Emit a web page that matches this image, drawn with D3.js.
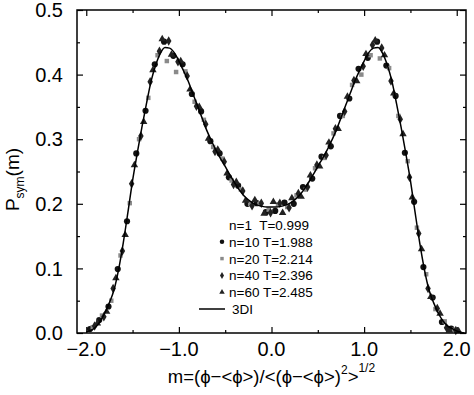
<!DOCTYPE html>
<html>
<head>
<meta charset="utf-8">
<script src="https://cdn.jsdelivr.net/npm/d3@7"></script>
<style>
  body { margin: 0; background: #fff; }
  svg { font-family: "Liberation Sans", Arial, Helvetica, sans-serif; }
</style>
</head>
<body>
<script>
// 3DI curve
const lineM = [-2.00,-1.95,-1.90,-1.85,-1.80,-1.75,-1.70,-1.65,-1.60,-1.55,-1.50,-1.45,-1.40,-1.35,-1.30,-1.25,-1.20,-1.15,-1.10,-1.05,
    -1.00,-0.95,-0.90,-0.85,-0.80,-0.75,-0.70,-0.65,-0.60,-0.55,-0.50,-0.45,-0.40,-0.35,-0.30,-0.25,-0.20,-0.15,-0.10,-0.05,
    0.00,0.05,0.10,0.15,0.20,0.25,0.30,0.35,0.40,0.45,0.50,0.55,0.60,0.65,0.70,0.75,0.80,0.85,0.90,0.95,
    1.00,1.05,1.10,1.15,1.20,1.25,1.30,1.35,1.40,1.45,1.50,1.55,1.60,1.65,1.70,1.75,1.80,1.85,1.90,1.95,2.00,2.05,2.08];
const lineP = [0.002,0.004,0.009,0.018,0.031,0.047,0.067,0.099,0.140,0.187,0.236,0.278,0.318,0.355,0.390,0.415,0.433,0.442,0.441,0.434,
    0.421,0.406,0.390,0.371,0.352,0.333,0.314,0.298,0.283,0.270,0.258,0.245,0.233,0.222,0.213,0.206,0.201,0.198,0.196,0.195,
    0.195,0.195,0.196,0.198,0.201,0.206,0.213,0.222,0.233,0.245,0.258,0.270,0.283,0.298,0.314,0.333,0.352,0.371,0.390,0.406,
    0.421,0.434,0.441,0.442,0.433,0.415,0.390,0.355,0.318,0.278,0.236,0.187,0.140,0.099,0.067,0.047,0.031,0.019,0.011,0.007,0.003,0.001,0.000];

// n=1 T=0.999
const m1 = [-1.99,-1.89,-1.79,-1.69,-1.59,-1.49,-1.39,-1.29,-1.19,-1.09,-0.99,-0.89,-0.79,-0.69,-0.59,-0.49,-0.39,-0.29,-0.19,-0.09,
    0.01,0.11,0.21,0.31,0.41,0.51,0.61,0.71,0.81,0.91,1.01,1.11,1.21,1.31,1.41,1.51,1.61,1.71,1.81,1.91];
const p1 = [0.004,0.013,0.030,0.078,0.144,0.251,0.321,0.400,0.445,0.434,0.423,0.381,0.352,0.306,0.284,0.250,0.235,0.207,0.203,0.192,
    0.198,0.193,0.205,0.211,0.238,0.256,0.290,0.314,0.360,0.388,0.428,0.447,0.424,0.388,0.305,0.231,0.127,0.068,0.025,0.010];
// n=10 T=1.988
const m10 = [-1.96,-1.86,-1.76,-1.66,-1.56,-1.46,-1.36,-1.26,-1.16,-1.06,-0.96,-0.86,-0.76,-0.66,-0.56,-0.46,-0.36,-0.26,-0.16,-0.06,
    0.04,0.14,0.24,0.34,0.44,0.54,0.64,0.74,0.84,0.94,1.04,1.14,1.24,1.34,1.44,1.54,1.64,1.74,1.84,1.94];
const p10 = [0.006,0.020,0.041,0.099,0.173,0.278,0.344,0.416,0.451,0.429,0.416,0.370,0.343,0.297,0.278,0.241,0.228,0.200,0.201,0.187,
    0.189,0.202,0.200,0.226,0.239,0.273,0.289,0.336,0.363,0.409,0.426,0.451,0.414,0.367,0.279,0.203,0.102,0.055,0.017,0.007];
// n=20 T=2.214
const m20 = [-1.93,-1.83,-1.73,-1.63,-1.53,-1.43,-1.33,-1.23,-1.13,-1.03,-0.93,-0.83,-0.73,-0.63,-0.53,-0.43,-0.33,-0.23,-0.13,-0.03,
    0.07,0.17,0.27,0.37,0.47,0.57,0.67,0.77,0.87,0.97,1.07,1.17,1.27,1.37,1.47,1.57,1.67,1.77,1.87,1.97];
const p20 = [0.009,0.027,0.050,0.120,0.201,0.300,0.364,0.430,0.421,0.404,0.405,0.358,0.330,0.288,0.270,0.236,0.222,0.200,0.201,0.191,
    0.199,0.195,0.213,0.222,0.255,0.271,0.309,0.336,0.384,0.400,0.430,0.425,0.410,0.336,0.266,0.163,0.091,0.037,0.018,0.005];
// n=40 T=2.396
const m40 = [-1.91,-1.81,-1.71,-1.61,-1.51,-1.41,-1.31,-1.21,-1.11,-1.01,-0.91,-0.81,-0.71,-0.61,-0.51,-0.41,-0.31,-0.21,-0.11,-0.01,
    0.09,0.19,0.29,0.39,0.49,0.59,0.69,0.79,0.89,0.99,1.09,1.19,1.29,1.39,1.49,1.59,1.69,1.79,1.89,1.99];
const p40 = [0.011,0.025,0.069,0.127,0.231,0.305,0.389,0.436,0.452,0.420,0.398,0.351,0.323,0.281,0.265,0.230,0.220,0.197,0.201,0.186,
    0.201,0.194,0.216,0.226,0.260,0.275,0.316,0.343,0.391,0.413,0.446,0.441,0.390,0.331,0.241,0.154,0.069,0.038,0.008,0.004];
// n=60 T=2.485
const m60 = [-1.88,-1.78,-1.68,-1.58,-1.48,-1.38,-1.28,-1.18,-1.08,-0.98,-0.88,-0.78,-0.68,-0.58,-0.48,-0.38,-0.28,-0.18,-0.08,0.02,
    0.12,0.22,0.32,0.42,0.52,0.62,0.72,0.82,0.92,1.02,1.12,1.22,1.32,1.42,1.52,1.62,1.72,1.82,1.92,2.02];
const p60 = [0.015,0.033,0.085,0.152,0.260,0.327,0.407,0.455,0.431,0.421,0.377,0.350,0.301,0.284,0.247,0.234,0.205,0.206,0.185,0.203,
    0.186,0.209,0.211,0.244,0.258,0.295,0.316,0.366,0.390,0.432,0.453,0.430,0.371,0.308,0.210,0.130,0.056,0.030,0.004,0.003];

const xTicks = [-2, -1, 0, 1, 2];
const xMinor = [-1.5, -0.5, 0.5, 1.5];
const yTicks = [0, 0.1, 0.2, 0.3, 0.4, 0.5];
const yMinor = [0.05, 0.15, 0.25, 0.35, 0.45];

const width = 474, height = 395;
const plot = { left: 77, right: 466, top: 10, bottom: 333 };

const series = [
    { label: "n=1  T=0.999", m: m1, p: p1, sym: d3.symbolPlus, size: 22, legSize: 16, fill: "#a8a8a8" },
    { label: "n=10 T=1.988", m: m10, p: p10, sym: d3.symbolCircle, size: 30, legSize: 16, fill: "#111" },
    { label: "n=20 T=2.214", m: m20, p: p20, sym: d3.symbolSquare, size: 20, legSize: 12, fill: "#8a8a8a" },
    { label: "n=40 T=2.396", m: m40, p: p40, sym: d3.symbolDiamond, size: 26, legSize: 14, fill: "#222" },
    { label: "n=60 T=2.485", m: m60, p: p60, sym: d3.symbolTriangle, size: 24, legSize: 13, fill: "#222" }
];

const x = d3.scaleLinear().domain([-2.1, 2.1]).range([plot.left, plot.right]);
const y = d3.scaleLinear().domain([0, 0.5]).range([plot.bottom, plot.top]);

const svg = d3.select("body").append("svg")
    .attr("width", width)
    .attr("height", height);

// inward ticks on all four sides
const addAxis = (axisFn, scale, vals, len, tr) => {
    svg.append("g")
        .attr("transform", tr)
        .call(axisFn(scale).tickValues(vals).tickSize(len).tickFormat(""))
        .call(g => g.select(".domain").remove())
        .call(g => g.selectAll("line").attr("stroke", "#000").attr("stroke-width", 1.2));
};
addAxis(d3.axisBottom, x, xTicks, 6, `translate(0,${plot.top})`);
addAxis(d3.axisBottom, x, xMinor, 3, `translate(0,${plot.top})`);
addAxis(d3.axisTop, x, xTicks, 6, `translate(0,${plot.bottom})`);
addAxis(d3.axisTop, x, xMinor, 3, `translate(0,${plot.bottom})`);
addAxis(d3.axisRight, y, yTicks, 6, `translate(${plot.left},0)`);
addAxis(d3.axisRight, y, yMinor, 3, `translate(${plot.left},0)`);
addAxis(d3.axisLeft, y, yTicks, 6, `translate(${plot.right},0)`);
addAxis(d3.axisLeft, y, yMinor, 3, `translate(${plot.right},0)`);

// tick labels
svg.append("g").selectAll("text")
    .data(yTicks)
    .join("text")
    .attr("x", plot.left - 14)
    .attr("y", d => y(d))
    .attr("dy", "0.36em")
    .attr("text-anchor", "end")
    .style("font-size", "20px")
    .text(d => d.toFixed(1));

svg.append("g").selectAll("text")
    .data(xTicks)
    .join("text")
    .attr("x", d => x(d))
    .attr("y", plot.bottom + 23)
    .attr("text-anchor", "middle")
    .style("font-size", "20px")
    .text(d => (d < 0 ? "\u2212" : "") + Math.abs(d).toFixed(1));

// points
series.forEach(s => {
    svg.append("g").selectAll("path")
        .data(s.m.map((m, i) => [m, s.p[i]]))
        .join("path")
        .attr("transform", d => `translate(${x(d[0])},${y(d[1])})`)
        .attr("d", d3.symbol().type(s.sym).size(s.size))
        .attr("fill", s.fill);
});

// 3DI curve
svg.append("path")
    .datum(lineM.map((m, i) => [m, lineP[i]]))
    .attr("fill", "none")
    .attr("stroke", "#000")
    .attr("stroke-width", 1.5)
    .attr("d", d3.line().x(d => x(d[0])).y(d => y(d[1])).curve(d3.curveMonotoneX));

// frame
svg.append("rect")
    .attr("x", plot.left)
    .attr("y", plot.top)
    .attr("width", plot.right - plot.left)
    .attr("height", plot.bottom - plot.top)
    .attr("fill", "none")
    .attr("stroke", "#000")
    .attr("stroke-width", 1.5);

// legend
const legX = 222, legY = 225, legStep = 16.8;
const leg = svg.append("g");
series.forEach((s, i) => {
    leg.append("path")
        .attr("transform", `translate(${legX},${legY + i * legStep})`)
        .attr("d", d3.symbol().type(s.sym).size(s.legSize))
        .attr("fill", s.fill);
    leg.append("text")
        .attr("x", legX + 7)
        .attr("y", legY + i * legStep + 5)
        .style("font-size", "13.5px")
        .style("white-space", "pre")
        .attr("xml:space", "preserve")
        .text(s.label);
});
leg.append("line")
    .attr("x1", 199).attr("x2", 225)
    .attr("y1", legY + 5 * legStep).attr("y2", legY + 5 * legStep)
    .attr("stroke", "#000").attr("stroke-width", 1.5);
leg.append("text")
    .attr("x", 232)
    .attr("y", legY + 5 * legStep + 5)
    .style("font-size", "13.5px")
    .text("3DI");

// axis titles
const xt = svg.append("text")
    .attr("x", (plot.left + plot.right) / 2)
    .attr("y", 383)
    .attr("text-anchor", "middle")
    .style("font-size", "18.5px");
xt.append("tspan").text("m=(\u03D5\u2212<\u03D5>)/<(\u03D5\u2212<\u03D5>)");
xt.append("tspan").attr("dy", -9).style("font-size", "12px").text("2");
xt.append("tspan").attr("dy", 9).text(">");
xt.append("tspan").attr("dy", -11).style("font-size", "12px").text("1/2");

const yt = svg.append("text")
    .attr("transform", `translate(19,${(plot.top + plot.bottom) / 2 + 8}) rotate(-90)`)
    .attr("text-anchor", "middle")
    .style("font-size", "19px");
yt.append("tspan").text("P");
yt.append("tspan").attr("dy", 5).style("font-size", "12px").text("sym");
yt.append("tspan").attr("dy", -5).text("(m)");
</script>
</body>
</html>
